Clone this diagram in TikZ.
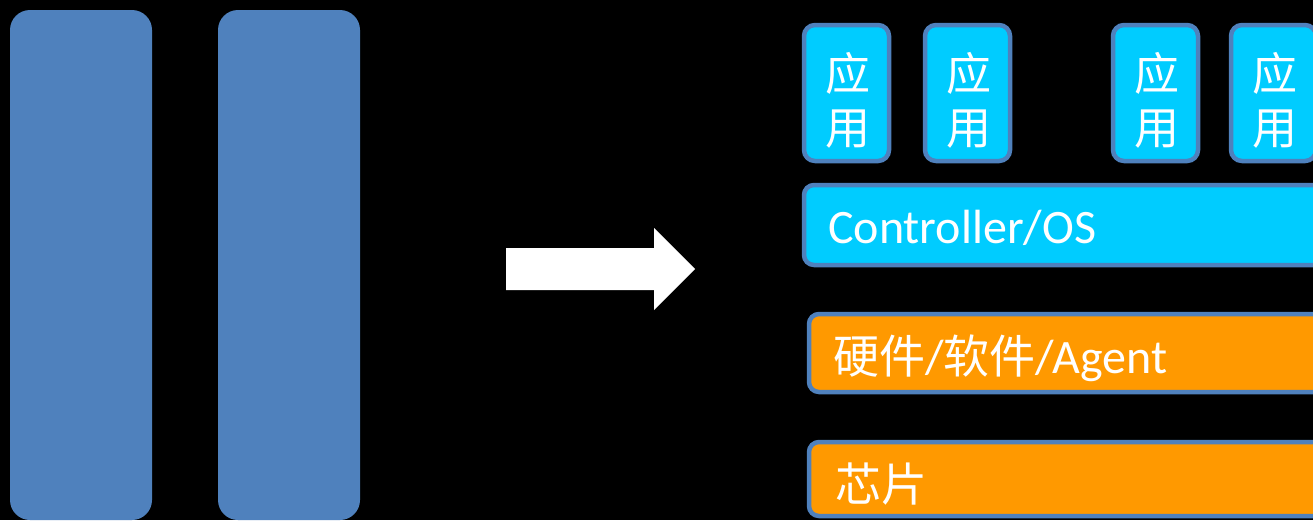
\documentclass[tikz,border=0pt]{standalone}
\usepackage{fontspec}
\setmainfont{Carlito}
\newfontfamily\cjk{Noto Sans CJK SC}
\definecolor{steel}{HTML}{4F81BD}
\definecolor{cyanbox}{HTML}{00CCFF}
\definecolor{orangebox}{HTML}{FF9900}
\begin{document}
\begin{tikzpicture}[x=1pt,y=-1pt,
  pillar/.style={fill=steel, rounded corners=20pt},
  appbox/.style={draw=steel, line width=4.5pt, fill=cyanbox, rounded corners=11pt},
  layerbox/.style={draw=steel, line width=4.5pt, rounded corners=10pt},
  lbl/.style={text=white, anchor=base west, inner sep=0pt},
  applbl/.style={text=white, font=\cjk\fontsize{45}{54}\selectfont, align=center, inner sep=0pt}
]
\fill[black] (0,0) rectangle (1313,520);
\useasboundingbox (0,0) rectangle (1313,520);
\clip (0,0) rectangle (1313,520);
% left pillars
\path[pillar] (10,10) rectangle (152,520);
\path[pillar] (218,10) rectangle (360,520);
% arrow
\fill[white] (506,248) -- (654,248) -- (654,228) -- (695,269) -- (654,310) -- (654,290) -- (506,290) -- cycle;
% app boxes
\draw[appbox] (804,25) rectangle (889,161);
\draw[appbox] (925,25) rectangle (1010,161);
\draw[appbox] (1113,25) rectangle (1198,161);
\draw[appbox] (1231,25) rectangle (1316,161);
\node[applbl] (a1) at (848,100) {应\\用};
\node[applbl] (a2) at (969,100) {应\\用};
\node[applbl] (a3) at (1157,100) {应\\用};
\node[applbl] (a4) at (1275,100) {应\\用};
% controller
\draw[layerbox, fill=cyanbox] (804,185) rectangle (1330,265);
\node[lbl, font=\fontsize{48}{54}\selectfont] (ctl) at (828,243) {Controller/OS};
% orange layers
\draw[layerbox, fill=orangebox] (809,314) rectangle (1330,392);
\node[lbl] (hw) at (833,373) {{\cjk\fontsize{46}{54}\selectfont 硬件}{\fontsize{48}{54}\selectfont /}{\cjk\fontsize{46}{54}\selectfont 软件}{\fontsize{48}{54}\selectfont /Agent}};
\draw[layerbox, fill=orangebox] (809,442) rectangle (1330,516);
\node[lbl, font=\cjk\fontsize{46}{54}\selectfont] (chip) at (835,501) {芯片};
\end{tikzpicture}
\end{document}
